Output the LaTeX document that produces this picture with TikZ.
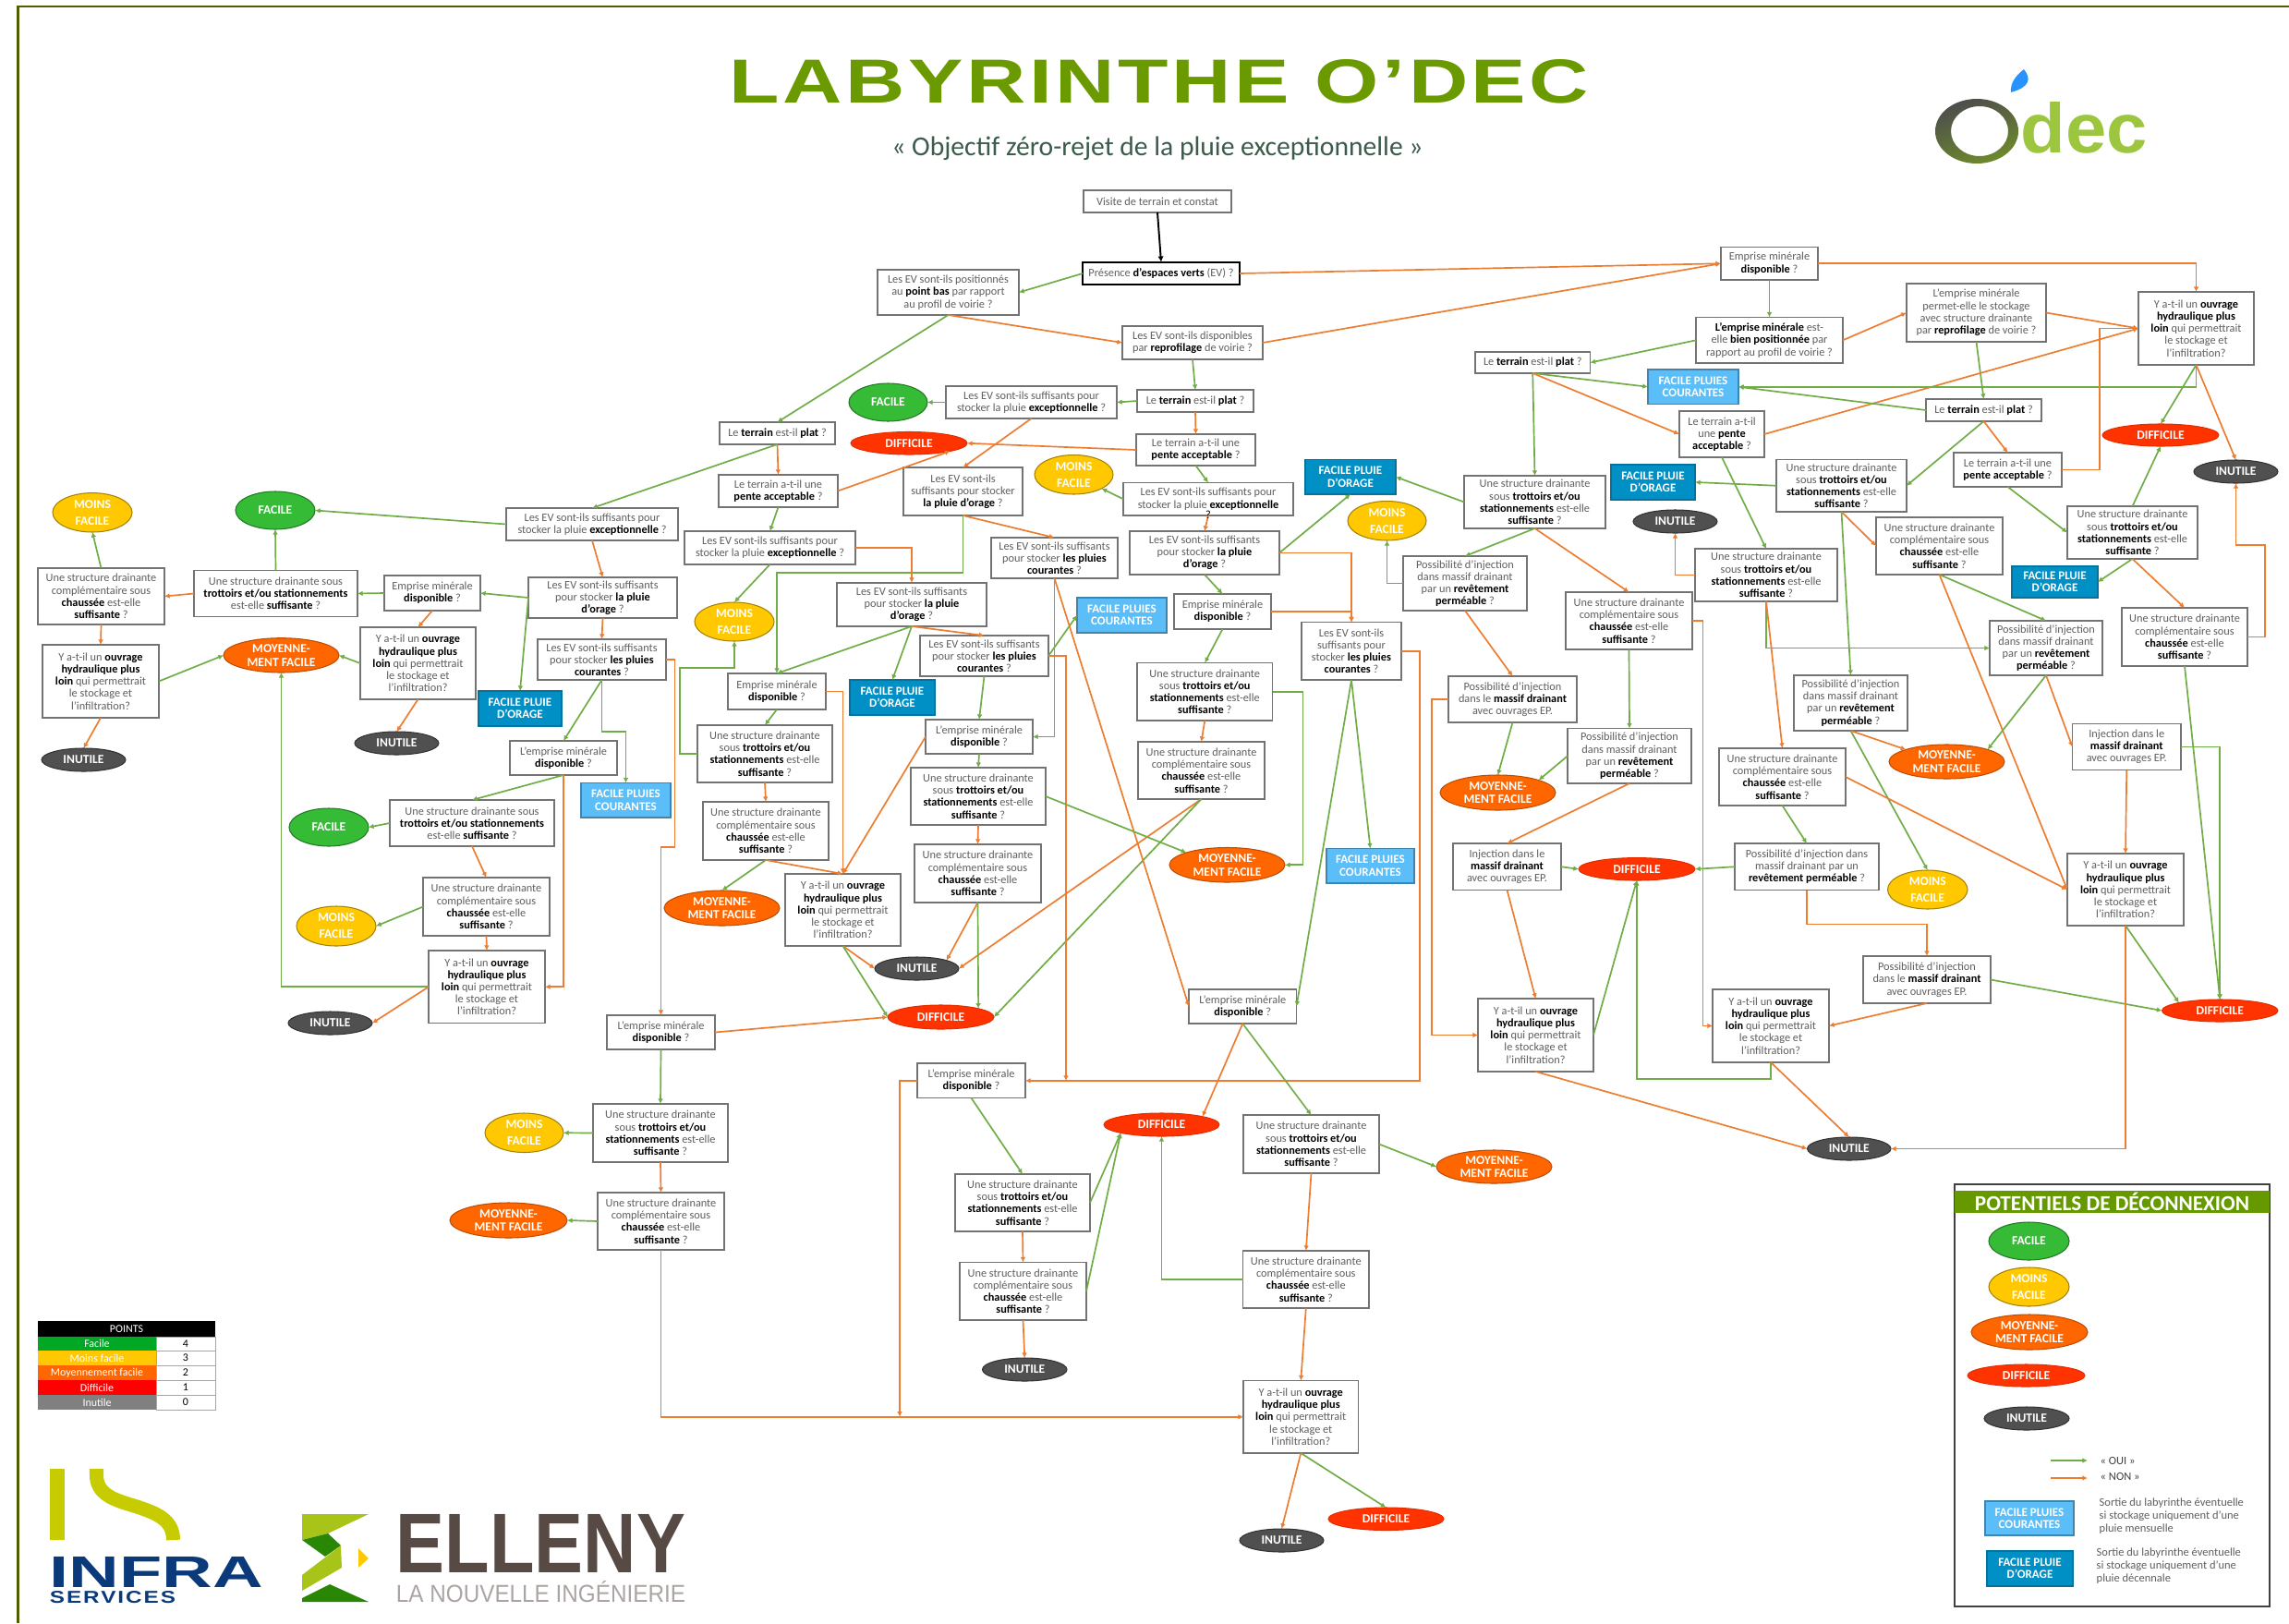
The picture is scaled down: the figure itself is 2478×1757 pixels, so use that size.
\documentclass[tikz,border=0pt]{standalone}
\usepackage{fontspec}
\usepackage{graphicx}
\setmainfont{Carlito}
\newfontfamily\lsans{Liberation Sans}
\usetikzlibrary{arrows.meta,shapes.geometric}
\definecolor{cOui}{HTML}{70AD47}
\definecolor{cNon}{HTML}{ED7D31}
\definecolor{cFac}{HTML}{35BB35}
\definecolor{cMoi}{HTML}{FFC800}
\definecolor{cMoy}{HTML}{FF6600}
\definecolor{cDif}{HTML}{FF3300}
\definecolor{cInu}{HTML}{505050}
\definecolor{cFpc}{HTML}{5BBEF8}
\definecolor{cFpo}{HTML}{0090C6}
\definecolor{cTxt}{HTML}{5F5F5F}
\definecolor{cFrame}{HTML}{4F5F00}
\definecolor{cTitle}{HTML}{6A9A00}
\definecolor{cSub}{HTML}{3B5B4B}
\definecolor{cHead}{HTML}{669900}
\definecolor{cInfra}{HTML}{C6CC00}
\definecolor{cNavy}{HTML}{0B3A7A}
\definecolor{cBrown}{HTML}{574A45}
\definecolor{cLime}{HTML}{A8C418}
\definecolor{cDec}{HTML}{9DC63F}
\newcommand{\bd}[1]{\textcolor{black}{\textbf{#1}}}
\newcommand{\tUst}{Une structure drainante\\sous \bd{trottoirs et/ou}\\\bd{stationnements} est-elle\\\bd{suffisante} ?}
\newcommand{\tUwide}{Une structure drainante sous\\\bd{trottoirs et/ou stationnements}\\est-elle \bd{suffisante} ?}
\newcommand{\tVst}{Une structure drainante\\complémentaire sous\\\bd{chaussée} est-elle\\\bd{suffisante} ?}
\newcommand{\tYst}{Y a-t-il un \bd{ouvrage}\\\bd{hydraulique plus}\\\bd{loin} qui permettrait\\le stockage et\\l’infiltration?}
\newcommand{\tEmp}{Emprise minérale\\\bd{disponible} ?}
\newcommand{\tEmpL}{L’emprise minérale\\\bd{disponible} ?}
\newcommand{\tInjD}{Possibilité d’injection\\dans massif drainant\\par un \bd{revêtement}\\\bd{perméable} ?}
\newcommand{\tMassif}{Possibilité d’injection\\dans le \bd{massif drainant}\\avec ouvrages EP.}
\newcommand{\tInj}{Injection dans le\\\bd{massif drainant}\\avec ouvrages EP.}
\newcommand{\tExc}{Les EV sont-ils suffisants pour\\stocker la pluie \bd{exceptionnelle} ?}
\newcommand{\tOrage}{Les EV sont-ils suffisants\\pour stocker \bd{la pluie}\\\bd{d'orage} ?}
\newcommand{\tCour}{Les EV sont-ils suffisants\\pour stocker \bd{les pluies}\\\bd{courantes} ?}
\newcommand{\tPlat}{Le \bd{terrain} est-il \bd{plat} ?}
\newcommand{\tPente}{Le terrain a-t-il une\\\bd{pente acceptable} ?}
\newcommand{\tMoi}{MOINS\\[.9pt]FACILE}
\newcommand{\tMoy}{MOYENNE-\\MENT FACILE}
\newcommand{\tFpc}{FACILE PLUIES\\COURANTES}
\newcommand{\tFpo}{FACILE PLUIE\\D'ORAGE}
% box: name x0 y0 x1 y1 text
\newcommand{\qb}[6]{\node[qbox,minimum width={(#4-#2)*0.01cm},minimum height={(#5-#3)*0.01cm}] (#1) at ({(#2+#4)/2},{(#3+#5)/2}) {#6};}
% filled rectangle: name x0 y0 x1 y1 style text
\newcommand{\fl}[7]{\node[#6,minimum width={(#4-#2)*0.01cm},minimum height={(#5-#3)*0.01cm}] (#1) at ({(#2+#4)/2},{(#3+#5)/2}) {#7};}
% ellipse: name x0 y0 x1 y1 style text
\newcommand{\ov}[7]{\node[ovalbase,#6,minimum width={(#4-#2)*0.01cm},minimum height={(#5-#3)*0.01cm}] (#1) at ({(#2+#4)/2},{(#3+#5)/2}) {};\node[ovaltext] (#1-t) at (#1.center) {#7};}
\tikzset{
 x=0.01cm,y=-0.01cm,
 qbox/.style={draw=black!55,line width=.42pt,fill=white,inner sep=0pt,outer sep=0pt,align=center,text=cTxt,font=\fontsize{3.5}{3.76}\selectfont},
 ovalbase/.style={ellipse,inner sep=0pt,outer sep=0pt,line width=.3pt},
 ovaltext/.style={inner sep=0pt,align=center,text=white,font=\fontsize{3.85}{4.2}\selectfont\bfseries},
 efac/.style={fill=cFac,draw=cFac!65!black},
 emoi/.style={fill=cMoi,draw=cMoi!65!black},
 emoy/.style={fill=cMoy,draw=cMoy!75!black},
 edif/.style={fill=cDif,draw=cDif!90!black},
 einu/.style={fill=cInu,draw=black!80},
 rectlab/.style={inner sep=0pt,outer sep=0pt,align=center,text=white,line width=.3pt,font=\fontsize{3.7}{3.76}\selectfont\bfseries},
 rfpc/.style={rectlab,fill=cFpc,draw=cFpc!70!black},
 rfpo/.style={rectlab,fill=cFpo,draw=cFpo!80!black},
 oui/.style={draw=cOui,line width=.48pt,-{Latex[length=1.6pt,width=1.6pt]}},
 non/.style={draw=cNon,line width=.48pt,-{Latex[length=1.6pt,width=1.6pt]}},
 tcell/.style={inner sep=0pt,outer sep=0pt,text=white,font=\fontsize{3.4}{3.6}\selectfont},
 ncell/.style={tcell,text=black,draw=black!35,line width=.2pt,fill=white},
 legt/.style={inner sep=0pt,align=left,anchor=west,text=cTxt,font=\fontsize{3.55}{3.9}\selectfont},
}
\begin{document}
\begin{tikzpicture}
\useasboundingbox (0,0) rectangle (2478,1757);
\fill[white] (0,0) rectangle (2478,1757);
\draw[cFrame,line width=.8pt] (19.5,1757) -- (19.5,7) -- (2478,7);
% titles
\node[inner sep=0pt,text=cTitle] (title) at (1255,88.5) {\resizebox{9.3cm}{0.47cm}{\lsans\bfseries\addfontfeature{LetterSpace=4}LABYRINTHE O’DEC}};
\node[inner sep=0pt,text=cSub] (subtitle) at (1253,161) {\resizebox{5.75cm}{!}{« Objectif zéro-rejet de la pluie exceptionnelle »}};
% odec logo
\shade[even odd rule,left color=black!70,right color=cDec!70!black,shading angle=20] (2140,142) ellipse [x radius=45,y radius=35] (2143,142) ellipse [x radius=31,y radius=27];
\fill[blue!50!cyan!85!white] (2191,75) .. controls (2199,85) and (2198,94) .. (2177,100) .. controls (2176,90) and (2182,82) .. (2191,75);
\node[inner sep=0pt,text=cDec] (dec) at (2256,138.5) {\resizebox{1.37cm}{0.55cm}{\lsans\bfseries dec}};

% ---------- top centre
\qb{A}{1173}{206}{1333}{230}{Visite de terrain et constat}
\node[qbox,draw=black,line width=.6pt,minimum width=1.70cm,minimum height=.245cm] (B) at (1257,296) {Présence \bd{d’espaces verts} (EV) ?};
\qb{C}{950}{292}{1103}{341}{Les EV sont-ils positionnés\\au \bd{point bas} par rapport\\au profil de voirie ?}
\qb{D}{1215}{353}{1367}{389}{Les EV sont-ils disponibles\\par \bd{reprofilage} de voirie ?}
\qb{E}{1231}{422}{1357}{446}{\tPlat}
\qb{F}{1024}{418}{1209}{453}{\tExc}
\ov{FAC1}{919}{415}{1004}{456}{efac}{FACILE}
\ov{DIF1}{921}{467.5}{1047}{492}{edif}{DIFFICILE}
\qb{G}{1230}{470}{1359}{504}{\tPente}
\ov{MOI2}{1120}{492.5}{1205}{535}{emoi}{\tMoi}
\qb{H}{1216}{522.5}{1400}{558}{Les EV sont-ils suffisants pour\\stocker la pluie  \bd{exceptionnelle}}
\qb{I}{1223}{575}{1385}{622}{\tOrage}
\qb{J}{978}{506}{1107}{558}{Les EV sont-ils\\suffisants pour stocker\\\bd{la pluie d'orage} ?}
\qb{K}{1073}{582}{1210}{626}{\tCour}
\fl{FPO1}{1413}{497.5}{1511}{535}{rfpo}{\tFpo}
\qb{L}{779}{457}{904}{481}{\tPlat}
\qb{M}{778}{514}{907}{549}{\tPente}
\qb{N}{741}{575}{926}{611}{\tExc}
\qb{O}{906}{631}{1068}{678}{\tOrage}
\qb{P}{996}{688}{1135}{732}{\tCour}
\fl{FPC1}{1166}{647}{1263}{685}{rfpc}{\tFpc}
\qb{R}{1271}{643}{1376}{681}{\tEmp}
\qb{S}{1409}{673.6}{1517}{736}{Les EV sont-ils\\suffisants pour\\stocker \bd{les pluies}\\\bd{courantes} ?}
\ov{MOI3}{1459}{542.5}{1544}{585}{emoi}{\tMoi}
\ov{MOIb}{752}{652}{838}{694}{emoi}{\tMoi}
% ---------- left
\ov{MOIa}{57}{533.6}{143}{576}{emoi}{\tMoi}
\ov{FACa}{255}{532}{341}{573}{efac}{FACILE}
\qb{Na}{548}{550}{734}{585}{\tExc}
\qb{Oa}{572}{625}{733}{669}{\tOrage}
\qb{Ea}{416}{623}{520}{661}{\tEmp}
\qb{Ua}{210}{617.5}{387}{667.5}{\tUwide}
\qb{Va}{41}{615}{178}{676}{\tVst}
\qb{Ya}{46}{698}{172}{777}{\tYst}
\qb{Yb}{390}{679}{515}{757}{\tYst}
\ov{MOYa}{242}{690.7}{367}{728}{emoy}{\tMoy}
\qb{Pa}{582}{692}{721}{736}{\tCour}
\ov{INUa}{45}{810}{136}{835}{einu}{INUTILE}
\ov{INUb}{384}{792}{475}{817}{einu}{INUTILE}
\fl{FPOa}{518}{748}{608}{786}{rfpo}{\tFpo}
\qb{Eb}{552}{802}{668}{839}{\tEmpL}
\fl{FPCa}{629}{847.5}{726}{885}{rfpc}{\tFpc}
\qb{Ub}{422}{866}{600}{916}{\tUwide}
\ov{FACb}{313}{875}{399}{916}{efac}{FACILE}
\qb{Vb}{458}{950}{595}{1013}{\tVst}
\ov{MOIc}{321}{981}{407}{1024}{emoi}{\tMoi}
\qb{Yc}{464}{1029}{590}{1107.5}{\tYst}
\ov{INUc}{312}{1095}{403}{1120}{einu}{INUTILE}
\qb{Ec}{657}{1099}{774}{1136}{\tEmpL}
\qb{Ud}{642}{1195}{788}{1258}{\tUst}
\ov{MOId}{525}{1205}{610}{1247.5}{emoi}{\tMoi}
\qb{Vd}{647}{1291}{784}{1353}{\tVst}
\ov{MOYe}{487}{1302}{614}{1340}{emoy}{\tMoy}
% ---------- centre column
\qb{Ee}{788}{729}{894}{768}{\tEmp}
\qb{Ue}{755}{785}{901}{847}{\tUst}
\qb{Ve}{761}{868}{897}{931}{\tVst}
\ov{MOYb}{719}{964}{844}{1002}{emoy}{\tMoy}
\fl{FPOb}{920}{736}{1012}{774}{rfpo}{\tFpo}
\qb{Ef}{1002}{779}{1118}{816}{\tEmpL}
\qb{Uf}{986}{831}{1132}{893}{\tUst}
\qb{Vf}{990}{914}{1127}{977}{\tVst}
\qb{Yd}{850}{946}{975}{1024}{\tYst}
\ov{INUd}{947}{1036}{1038}{1061}{einu}{INUTILE}
\ov{DIFd}{961}{1088}{1076}{1114}{edif}{DIFFICILE}
\qb{Ug}{1231}{717.5}{1377.5}{780}{\tUst}
\qb{Vg}{1232}{803}{1369}{865}{\tVst}
\ov{MOYc}{1266}{917.5}{1391}{955}{emoy}{\tMoy}
\fl{FPCb}{1436}{918.6}{1531}{956}{rfpc}{\tFpc}
\qb{Eg}{1287}{1071}{1403.5}{1108}{\tEmpL}
\qb{Eh}{993}{1151}{1110}{1188.6}{\tEmpL}
\ov{DIFg}{1195}{1205}{1320}{1230}{edif}{DIFFICILE}
\qb{Uh}{1346}{1207}{1493}{1270}{\tUst}
\ov{MOYd}{1555}{1245}{1680}{1281}{emoy}{\tMoy}
\qb{Ui}{1034}{1271}{1180}{1333}{\tUst}
\qb{Vi}{1039}{1366.5}{1176}{1429}{\tVst}
\ov{INUi}{1063.5}{1470}{1155}{1495}{einu}{INUTILE}
\qb{Vh}{1345.6}{1354}{1482}{1416}{\tVst}
\qb{Yh}{1346}{1494.5}{1470.5}{1573}{\tYst}
\ov{INUh}{1342}{1655}{1433}{1680}{einu}{INUTILE}
\ov{DIFh}{1438}{1632}{1563}{1656.5}{edif}{DIFFICILE}
% ---------- right
\qb{Er}{1863}{267.5}{1968}{303}{\tEmp}
\qb{BP}{1836}{343.6}{1995}{393}{\bd{L’emprise minérale} est-\\elle \bd{bien positionnée} par\\rapport au profil de voirie ?}
\qb{Rp}{2064}{307}{2215}{370}{L’emprise minérale\\permet-elle le stockage\\avec structure drainante\\par \bd{reprofilage} de voirie ?}
\qb{Yr}{2315}{316}{2440}{395}{\tYst}
\qb{Lr}{1597}{381}{1721.5}{404}{\tPlat}
\fl{FPCr}{1784}{400}{1882}{437.5}{rfpc}{\tFpc}
\qb{Pr}{1818}{445}{1910}{495}{Le terrain a-t-il\\une \bd{pente}\\\bd{acceptable} ?}
\qb{Ls}{2085}{432}{2210}{456}{\tPlat}
\qb{Ps}{2115}{490}{2232}{527}{\tPente}
\ov{DIFr}{2276}{459}{2402}{483}{edif}{DIFFICILE}
\ov{INUr}{2375}{498}{2466}{523}{einu}{INUTILE}
\fl{FPOr}{1744}{503}{1835}{541}{rfpo}{\tFpo}
\qb{Ur}{1923}{497.5}{2064}{554}{\tUst}
\qb{T}{1585}{515}{1738}{572}{\tUst}
\ov{INUs}{1768}{552}{1859}{577}{einu}{INUTILE}
\qb{Us}{1835}{594}{1989}{651}{\tUst}
\qb{Vr}{2031}{560}{2168}{622}{\tVst}
\qb{Ut}{2238}{548}{2379}{605}{\tUst}
\fl{FPOs}{2178}{613}{2271}{647}{rfpo}{\tFpo}
\qb{Vt}{2297}{658}{2433}{721}{\tVst}
\qb{Vu}{1695}{641}{1832}{703}{\tVst}
\qb{Ja}{1519}{602}{1653}{661}{\tInjD}
\qb{Pm}{1568}{732}{1707}{782}{\tMassif}
\qb{Jb}{2154}{672}{2276}{731}{\tInjD}
\qb{Jc}{1942}{731}{2065}{791}{\tInjD}
\qb{Inj}{2243.5}{783.5}{2361}{833.5}{\tInj}
\qb{Jd}{1697}{788.6}{1831}{848}{\tInjD}
\ov{MOYf}{1559}{839}{1684}{877}{emoy}{\tMoy}
\ov{MOYg}{2045}{806}{2170}{843}{emoy}{\tMoy}
\qb{Vv}{1861}{810}{1998}{872}{\tVst}
\qb{Ik}{1573}{913}{1690}{963.5}{\tInj}
\ov{DIFj}{1709}{928.6}{1835}{953}{edif}{DIFFICILE}
\qb{Je}{1878}{913}{2034}{963.5}{Possibilité d’injection dans\\massif drainant par un\\\bd{revêtement perméable} ?}
\ov{MOIj}{2043.5}{942}{2130}{984}{emoi}{\tMoi}
\qb{Yt}{2238}{924}{2364}{1002}{\tYst}
\qb{Pn}{2017}{1035}{2155}{1086}{\tMassif}
\ov{DIFk}{2340.5}{1082}{2466}{1106}{edif}{DIFFICILE}
\qb{Yu}{1600}{1081}{1725}{1160}{\tYst}
\qb{Yv}{1854}{1071}{1980}{1150}{\tYst}
\ov{INUk}{1956.5}{1231}{2047}{1256}{einu}{INUTILE}

% named junctions
\coordinate (jP) at (1154,1170);
\coordinate (jH) at (974,1533.75);

% ---------- connectors
\draw[black,line width=.55pt,-{Latex[length=1.8pt,width=1.8pt]}] (A.south) -- (B.north);
\draw[oui] (B.west) -- (C.east);
\draw[non] (B.east) -- (Er.west);
\draw[non] (C.south) -- (D.west);
\draw[oui] (C.south) -- (L.north);
\draw[non] (D.east) -- (Er.west);
\draw[oui] (D.south) -- (E.north);
\draw[oui] (E.west) -- (F.east);
\draw[non] (E.south) -- (G.north);
\draw[oui] (F.west) -- (FAC1.east);
\draw[non] (F.south) -- (J.north);
\draw[non] (G.west) -- (DIF1.east);
\draw[oui] (G.south) -- (H.north);
\draw[oui] (H.west) -- (MOI2.south east);
\draw[non] (H.south) -- (I.north);
\draw[oui] (I.east) -- (FPO1.south);
\draw[non] (I.east) -| (S.north);
\draw[oui] (I.south) -- (R.north);
\draw[oui] (R.south) -- (Ug.north);
\draw[non] (R.east) -| (S.north);
\draw[non] (S.east) -- ++(20,0) |- (Eh.east);
\draw[oui] (S.south) -- (FPCb.north);
\draw[oui] (S.south) -- (Eg.east);
\draw[oui] (Ug.east) -- ++(33,0) |- (MOYc.east);
\draw[non] (Ug.south) -- (Vg.north);
\draw[non] (Vg.south) -- (INUd.east);
\draw[oui] (Vg.south) -- (DIFd.east);
\draw[non] (J.south) -- (K.north);
\draw[oui] (J.south) -- ++(0,62) -| (Ee.north);
\draw[non] (L.south) -- (M.north);
\draw[oui] (L.south) -- (Na.north);
\draw[non] (M.east) -- (DIF1.south east);
\draw[oui] (M.south) -- (N.north);
\draw[oui] (N.south) -- (MOIb.north);
\draw[non] (N.east) -| (O.north);
\draw[non] (O.south) -- (P.north);
\draw[oui] (O.south) -- (FPOb.north);
\draw[oui] (O.south) -- (Ee.north);
\draw[oui] (P.east) -- (FPC1.west);
\draw[oui] (P.south) -- (Ef.north);
\draw[non] (P.east) -| (jP);
\draw[oui] (K.south) |- (Ef.east);
\draw[non] (K.south) -- (Eg.west);
\draw[oui] (Ee.south) -- (Ue.north);
\draw[non] (Ee.east) -| (Yd.north);
\draw[non] (Ue.south) -- (Ve.north);
\draw[oui] (Ue.west) -- ++(-19,0) -- ++(0,-93) -| (MOIb.south);
\draw[oui] (Ve.south) -- (MOYb.north);
\draw[non] (Ve.south) -- (Yd.north);
\draw[oui] (Ef.south) -- (Uf.north);
\draw[non] (Ef.west) -- (Yd.north);
\draw[oui] (Uf.east) -- (MOYc.north west);
\draw[non] (Uf.south) -- (Vf.north);
\draw[non] (Vf.south) -- (INUd.north east);
\draw[oui] (Vf.south) -- (DIFd.north east);
\draw[non] (Yd.south) -- (INUd.west);
\draw[oui] (Yd.south) -- (DIFd.west);
\draw[oui] (Eg.south) -- (Uh.north);
\draw[non] (Eg.south) -- (DIFg.north east);
\draw[oui] (Uh.east) -- (MOYd.west);
\draw[non] (Uh.south) -- (Vh.north);
\draw[oui] (Vh.west) -| (DIFg.south);
\draw[non] (Vh.south) -- (Yh.north);
\draw[oui] (Eh.south) -- (Ui.north);
\draw[non] (Eh.west) -| (jH);
\draw[oui] (Ui.east) -- (DIFg.south west);
\draw[non] (Ui.south) -- (Vi.north);
\draw[oui] (Vi.east) -- (DIFg.south west);
\draw[non] (Vi.south) -- (INUi.north);
\draw[non] (Yh.south) -- (INUh.north);
\draw[oui] (Yh.south) -- (DIFh.north);
\draw[non] (Vd.south) |- (Yh.west);
\draw[oui] (Ud.west) -- (MOId.east);
\draw[non] (Ud.south) -- (Vd.north);
\draw[oui] (Ec.south) -- (Ud.north);
\draw[oui] (Vd.west) -- (MOYe.east);
\draw[non] (Ec.east) -- (DIFd.west);
\draw[non] (Pa.east) -- ++(9.5,0) -- ++(0,203) -| (Ec.north);
\draw[oui] (Pa.south) -- (Eb.north);
\draw[oui] (Pa.south) -- ++(0,56) -| (FPCa.north);
\draw[non] (Oa.south) -- (Pa.north);
\draw[non] (Na.south) -- (Oa.north);
\draw[oui] (Na.west) -- (FACa.east);
\draw[oui] (Oa.west) -- (Ea.east);
\draw[oui] (Oa.west) -- (FPOa.north);
\draw[oui] (Ea.west) -- (Ua.east);
\draw[non] (Ua.west) -- (Va.east);
\draw[oui] (Ua.north) -- (FACa.south);
\draw[oui] (Va.north) -- (MOIa.south);
\draw[non] (Va.south) -- (Ya.north);
\draw[oui] (Ya.east) -- (MOYa.west);
\draw[non] (Ya.south) -- (INUa.north);
\draw[non] (Ea.south) -- (Yb.north);
\draw[oui] (Yb.west) -- (MOYa.east);
\draw[non] (Yb.south) -- (INUb.north);
\draw[oui] (Yc.west) -| (MOYa.south);
\draw[non] (Yc.west) -- (INUc.east);
\draw[oui] (Eb.south) -- (Ub.north);
\draw[non] (Eb.south) |- (Yc.east);
\draw[oui] (Ub.west) -- (FACb.east);
\draw[non] (Ub.south) -- (Vb.north);
\draw[oui] (Vb.west) -- (MOIc.east);
\draw[non] (Vb.south) -- (Yc.north);
% right part
\draw[oui] (Er.south) -- (BP.north);
\draw[non] (Er.east) -| (Yr.north);
\draw[oui] (BP.west) -- (Lr.east);
\draw[non] (BP.east) -- (Rp.west);
\draw[non] (Rp.east) -- (Yr.west);
\draw[oui] (Rp.south) -- (Ls.north);
\draw[oui] (Lr.south) -- (FPCr.west);
\draw[non] (Lr.south) -- (Pr.west);
\draw[oui] (Lr.south) -- (T.north);
\draw[non] (Pr.east) -- (Yr.west);
\draw[oui] (Pr.south) -- (Us.north);
\draw[oui] (Yr.south) |- (FPCr.east);
\draw[oui] (Yr.south) -- (DIFr.north);
\draw[non] (Yr.south) -- (INUr.north);
\draw[oui] (Ls.west) -- (FPCr.east);
\draw[non] (Ls.south) -- (Ps.north);
\draw[oui] (Ls.south) -- (Ur.east);
\draw[non] (Ps.east) -- ++(41,0) |- (Yr.west);
\draw[oui] (Ps.south) -- (Ut.west);
\draw[oui] (Ur.west) -- (FPOr.east);
\draw[non] (Ur.south) -- (Vr.west);
\draw[oui] (Ur.south) -- (Jc.north);
\draw[oui] (Ut.north) -- (DIFr.south);
\draw[oui] (Ut.south) -- (FPOs.east);
\draw[non] (Ut.south) -- (Vt.north);
\draw[non] (Vt.east) -- ++(19,0) -- ++(0,-99.5) -| (INUr.south);
\draw[oui] (Vt.south) -- (DIFk.north);
\draw[oui] (Vr.south) -- (Jb.north);
\draw[non] (Vr.south) -- (Yt.west);
\draw[oui] (Jb.south) -- (MOYg.north east);
\draw[non] (Jb.south) -- (Inj.west);
\draw[oui] (Inj.east) -| (DIFk.north);
\draw[non] (Inj.south) -- (Yt.north);
\draw[non] (Jc.south) -- (MOYg.north west);
\draw[oui] (Jc.south) -- (MOIj.north);
\draw[non] (Us.west) -| (INUs.south);
\draw[oui] (Us.south) |- (Jb.west);
\draw[non] (Us.south) -- (Vv.north);
\draw[non] (Vv.east) -- (Yt.west);
\draw[oui] (Vv.south) -- (Je.north);
\draw[oui] (Je.west) -- (DIFj.east);
\draw[non] (Je.south) -- ++(0,37) -| (Pn.north);
\draw[oui] (Pn.east) -- (DIFk.west);
\draw[non] (Pn.south) -- (Yv.east);
\draw[oui] (Yt.south) -- (DIFk.north west);
\draw[non] (Yt.south) |- (INUk.east);
\draw[oui] (Yv.south) -- ++(0,18) -| (DIFj.south);
\draw[non] (Yv.south) -- (INUk.north);
\draw[oui] (Yu.east) -- (DIFj.south);
\draw[non] (Yu.south) -- (INUk.west);
\draw[oui] (Ik.east) -- (DIFj.west);
\draw[non] (Ik.south) -- (Yu.north);
\draw[oui] (Jd.west) -- (MOYf.north east);
\draw[non] (Jd.south) -- (Ik.north);
\draw[oui] (Pm.south) -- (MOYf.north);
\draw[non] (Pm.west) -- ++(-18,0) |- (Yu.west);
\draw[oui] (Vu.south) -- (Jd.north);
\draw[non] (Vu.east) -- ++(11.5,0) |- (Yv.west);
\draw[non] (T.south) -- (Vu.north);
\draw[oui] (T.south) -- (Ja.north);
\draw[oui] (T.west) -- (FPO1.east);
\draw[oui] (Ja.west) -| (MOI3.south);
\draw[non] (Ja.south) -- (Pm.north);
\node[inner sep=0pt,text=black,font=\fontsize{3.5}{3.76}\selectfont] (Hq) at (1308,557) {?};

% ---------- legend
\node[draw=black!75,line width=.5pt,fill=white,minimum width=3.41cm,minimum height=4.57cm,inner sep=0pt] (leg) at (2286.5,1510.5) {};
\node[fill=cHead,text=white,inner sep=0pt,minimum width=3.40cm,minimum height=.24cm,font=\fontsize{6.6}{7}\selectfont\bfseries] (legh) at (2286.5,1301) {POTENTIELS DE DÉCONNEXION};
\ov{lFac}{2153}{1323}{2240}{1364}{efac}{FACILE}
\ov{lMoi}{2153}{1372}{2240}{1414}{emoi}{\tMoi}
\ov{lMoy}{2134}{1423}{2260}{1461}{emoy}{\tMoy}
\ov{lDif}{2130}{1477}{2257}{1501}{edif}{DIFFICILE}
\ov{lInu}{2148}{1523}{2240}{1548}{einu}{INUTILE}
\coordinate (lg0) at (2220,1581);
\coordinate (lg1) at (2260,1581);
\coordinate (lo0) at (2220,1600);
\coordinate (lo1) at (2260,1600);
\draw[oui] (lg0) -- (lg1);
\draw[non] (lo0) -- (lo1);
\node[legt,text=black!75] (lOui) at (2273,1581.5) {« OUI »};
\node[legt,text=black!75] (lNon) at (2273,1598) {« NON »};
\fl{lFpc}{2149}{1625}{2245}{1662}{rfpc}{\tFpc}
\fl{lFpo}{2151}{1679}{2244}{1717}{rfpo}{\tFpo}
\node[legt] (lT1) at (2272,1641) {Sortie du labyrinthe éventuelle\\si stockage uniquement d’une\\pluie mensuelle};
\node[legt] (lT2) at (2269,1695) {Sortie du labyrinthe éventuelle\\si stockage uniquement d’une\\pluie décennale};

% ---------- points table
\fl{thd}{41}{1430}{233}{1447}{tcell,fill=black}{POINTS}
\fl{t1}{41}{1447}{169}{1462}{tcell,fill=green!60!black!85!cyan}{Facile}
\fl{t2}{41}{1462}{169}{1478}{tcell,fill=cMoi}{Moins facile}
\fl{t3}{41}{1478}{169}{1494}{tcell,fill=cMoy}{Moyennement facile}
\fl{t4}{41}{1494}{169}{1510}{tcell,fill=red}{Difficile}
\fl{t5}{41}{1510}{169}{1526}{tcell,fill=black!50}{Inutile}
\fl{n1}{169}{1447}{233}{1462}{ncell}{4}
\fl{n2}{169}{1462}{233}{1478}{ncell}{3}
\fl{n3}{169}{1478}{233}{1494}{ncell}{2}
\fl{n4}{169}{1494}{233}{1510}{ncell}{1}
\fl{n5}{169}{1510}{233}{1526}{ncell}{0}

% ---------- infra logo
\fill[cInfra] (53.5,1590) rectangle (70,1667);
\draw[cInfra,line width=.15cm] (104.5,1590) -- (104.5,1597) .. controls (104.5,1618) and (125,1624) .. (145,1630) .. controls (170,1638) and (187.5,1645) .. (187.5,1667);
\node[inner sep=0pt,text=cNavy] (infra) at (169.5,1701.5) {\resizebox{2.31cm}{0.33cm}{\lsans\bfseries INFRA}};
\node[inner sep=0pt,text=cNavy] (serv) at (122,1729.5) {\resizebox{1.36cm}{0.13cm}{\lsans\bfseries\addfontfeature{LetterSpace=8}SERVICES}};
% ---------- elleny logo
\fill[cLime] (327,1639) -- (399,1639) -- (355,1660) -- (327,1667) -- cycle;
\fill[green!45!black!75!cLime] (327,1667) -- (355,1660) -- (369,1673) -- (352,1685) -- cycle;
\fill[cLime] (369,1673) -- (327,1705) -- (327,1722) -- (370,1697) -- cycle;
\fill[green!45!black!75!cLime] (327,1734) -- (399,1734) -- (357,1715) -- (327,1730) -- cycle;
\fill[cMoi] (388,1676) -- (399,1687) -- (388,1697) -- cycle;
\node[inner sep=0pt,text=cBrown] (ell) at (585.5,1670.5) {\resizebox{3.13cm}{0.63cm}{\lsans\bfseries ELLENY}};
\node[inner sep=0pt,text=cBrown!50!white] (ell2) at (585.5,1723) {\resizebox{3.13cm}{0.23cm}{\lsans LA NOUVELLE INGÉNIERIE}};
\end{tikzpicture}
\end{document}
